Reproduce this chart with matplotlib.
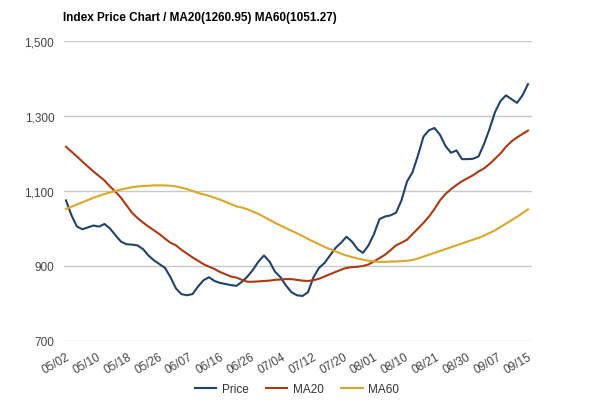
import matplotlib.pyplot as plt
import numpy as np

plt.rcParams['font.family'] = ['Liberation Sans', 'DejaVu Sans']

title = 'Index Price Chart / MA20(1260.95) MA60(1051.27)'

tick_labels = ['05/02', '05/10', '05/18', '05/26', '06/07', '06/16', '06/26', '07/04',
               '07/12', '07/20', '08/01', '08/10', '08/21', '08/30', '09/07', '09/15']

price = [1075, 1035, 1005, 998, 1003, 1008, 1005, 1012, 1000, 982,
         965, 958, 957, 955, 945, 928, 915, 905, 895, 870,
         840, 825, 822, 825, 845, 862, 870, 860, 855, 852,
         849, 847, 858, 872, 890, 912, 928, 912, 885, 870,
         848, 830, 822, 820, 830, 870, 895, 908, 928, 948,
         962, 978, 965, 945, 935, 955, 985, 1025, 1032, 1035,
         1042, 1075, 1125, 1150, 1195, 1245, 1262, 1268, 1250, 1220,
         1202, 1208, 1185, 1185, 1186, 1192, 1225, 1265, 1310, 1340,
         1355, 1345, 1335, 1355, 1385]

ma20 = [1218, 1205, 1192, 1178, 1165, 1152, 1140, 1128, 1112, 1098,
        1082, 1062, 1042, 1028, 1016, 1005, 995, 985, 973, 962,
        955, 943, 933, 923, 914, 905, 898, 892, 884, 878,
        872, 869, 863, 858, 858, 859, 860, 861, 863, 864,
        865, 865, 863, 861, 860, 862, 866, 872, 878, 884,
        890, 895, 897, 898, 900, 904, 912, 921, 930, 942,
        955, 962, 970, 985, 1000, 1015, 1032, 1052, 1075, 1092,
        1105, 1116, 1126, 1134, 1142, 1152, 1160, 1172, 1186, 1200,
        1218, 1232, 1243, 1252, 1261]

ma60 = [1052, 1058, 1064, 1070, 1076, 1082, 1087, 1092, 1096, 1100,
        1104, 1107, 1110, 1112, 1113, 1114, 1115, 1115, 1115, 1114,
        1112, 1109, 1105, 1100, 1095, 1091, 1087, 1082, 1077, 1071,
        1065, 1059, 1056, 1051, 1045, 1039, 1031, 1023, 1015, 1008,
        1001, 994, 987, 980, 972, 965, 958, 951, 945, 939,
        933, 928, 924, 920, 917, 914, 912, 911, 911, 912,
        912, 913, 914, 916, 920, 925, 930, 935, 940, 945,
        950, 955, 960, 965, 970, 975, 981, 988, 995, 1004,
        1013, 1022, 1031, 1041, 1051]

fig = plt.figure(figsize=(6, 4.06), dpi=100)
ax = fig.add_axes([64 / 600, 1 - 342 / 406, 468 / 600, 300 / 406])

x = np.arange(len(price))
ax.plot(x, price, color='#21426b', linewidth=1.5, label='Price')
ax.plot(x, ma20, color='#ab3a14', linewidth=1.5, label='MA20')
ax.plot(x, ma60, color='#d9a72a', linewidth=1.5, label='MA60')

ax.set_xlim(-0.36, 84.73)
ax.set_ylim(700, 1500)
ax.set_yticks([700, 900, 1100, 1300, 1500])
ax.set_yticklabels(['700', '900', '1,100', '1,300', '1,500'], fontsize=8.5, color='#444444')
ax.yaxis.grid(True, color='#c8c8c8', linewidth=1)
ax.set_axisbelow(True)

# date labels are spread evenly over the whole span
ticks = np.linspace(0, len(price) - 1, len(tick_labels))
ax.set_xticks(ticks)
ax.set_xticklabels(tick_labels, rotation=30, ha='right', rotation_mode='anchor',
                   fontsize=8.5, color='#444444')
ax.tick_params(length=0, pad=7)
for s in ax.spines.values():
    s.set_visible(False)

fig.text(63 / 600, 1 - 18 / 406, title, fontsize=8.5, fontweight='bold', va='center', ha='left')

ax.legend(loc='center', bbox_to_anchor=(297 / 600, 1 - 390 / 406), bbox_transform=fig.transFigure,
          ncol=3, frameon=False, fontsize=8.5, handlelength=1.8, handletextpad=0.45,
          columnspacing=1.5, labelcolor='#333333')

plt.savefig('out.png', dpi=100)
